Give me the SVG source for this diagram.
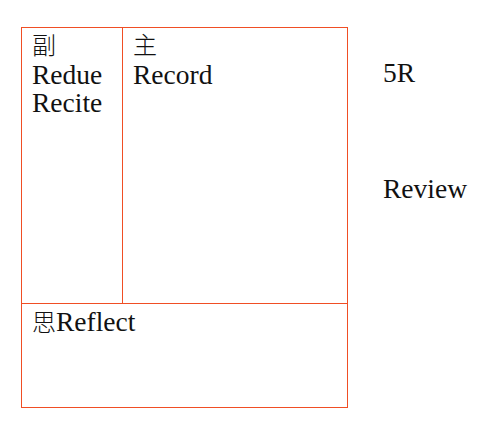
<svg xmlns="http://www.w3.org/2000/svg" width="499" height="441" viewBox="0 0 499 441">
  <style>
    .ln { stroke: #f04e24; stroke-width: 1; fill: none; }
    .t { font-family: "Liberation Serif", "Noto Sans CJK KR", serif; font-size: 27.5px; fill: #111111; }
    .cjk { font-family: "Noto Sans CJK KR", "Noto Sans CJK SC", sans-serif; font-size: 24px; font-weight: 300; }
  </style>
  <rect width="499" height="441" fill="#ffffff"/>
  <g id="frame">
    <rect class="ln" x="21.5" y="27.5" width="326" height="380"/>
    <line class="ln" x1="122.5" y1="27.5" x2="122.5" y2="303.5"/>
    <line class="ln" x1="21.5" y1="303.5" x2="347.5" y2="303.5"/>
  </g>
  <g id="cue">
    <text class="t cjk" x="32" y="54">副</text>
    <text class="t" x="32" y="83.5">Redue</text>
    <text class="t" x="32" y="112">Recite</text>
  </g>
  <g id="notes">
    <text class="t cjk" x="133" y="54">主</text>
    <text class="t" x="133" y="83.5">Record</text>
  </g>
  <g id="summary">
    <text class="t" x="32" y="331"><tspan class="cjk">思</tspan>Reflect</text>
  </g>
  <g id="side">
    <text class="t" x="383" y="82">5R</text>
    <text class="t" x="383" y="198">Review</text>
  </g>
</svg>
